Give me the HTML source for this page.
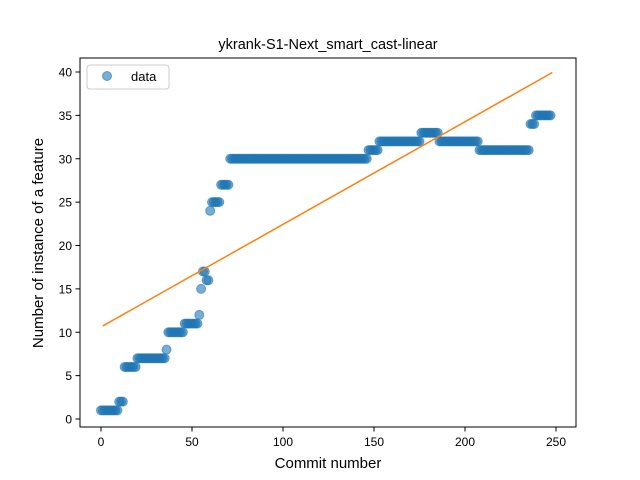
<!DOCTYPE html>
<html><head><meta charset="utf-8"><style>
body{margin:0;background:#fff;}
svg{display:block;font-family:"Liberation Sans","DejaVu Sans",sans-serif;}
</style></head><body>
<svg id="chart" width="640" height="480">
<rect x="0" y="0" width="640" height="480" fill="#fff"/>
<text x="328" y="49" text-anchor="middle" font-size="14.5">ykrank-S1-Next_smart_cast-linear</text>
<g id="plot"></g>
<rect x="80" y="58" width="496" height="369" fill="none" stroke="#000" stroke-width="1"/>
<text x="328" y="468" text-anchor="middle" font-size="15">Commit number</text>
<text transform="translate(43,243) rotate(-90)" text-anchor="middle" font-size="15">Number of instance of a feature</text>
<g>
<rect x="87" y="65" width="82" height="24" rx="3" fill="#fff" stroke="#ccc"/>
<circle cx="107" cy="76" r="4.5" fill="#1f77b4" fill-opacity="0.6" stroke="#1f77b4" stroke-opacity="0.6"/>
<text x="131" y="81" font-size="13">data</text>
</g>
</svg>
<script>
const runValues = [1,2,6,7,8,10,11,12,15,17,16,24,25,27,30,31,32,33,32,31,34,35];
const runLengths = [10,3,7,16,1,9,8,1,1,2,2,1,5,5,76,6,23,10,22,28,3,9];
const xTicks = [0,50,100,150,200,250];
const yTicks = [0,5,10,15,20,25,30,35,40];

const X = v => 101 + v * 1.82;
const Y = v => 419 - v * 8.675;
const NS = "http://www.w3.org/2000/svg";
const svg = document.getElementById('chart');
const plot = document.getElementById('plot');

const values = [];
runValues.forEach((v, i) => { for (let k = 0; k < runLengths[i]; k++) values.push(v); });
const xs = values.map((_, i) => i);

// ticks
xTicks.forEach(t => {
  const l = document.createElementNS(NS, 'line');
  l.setAttribute('x1', X(t)); l.setAttribute('x2', X(t));
  l.setAttribute('y1', 427); l.setAttribute('y2', 431.5);
  l.setAttribute('stroke', '#000');
  
  
  svg.appendChild(l);
  const tx = document.createElementNS(NS, 'text');
  tx.setAttribute('x', X(t)); tx.setAttribute('y', 446);
  tx.setAttribute('text-anchor', 'middle'); tx.setAttribute('font-size', '12');
  tx.textContent = t;
  
  
  svg.appendChild(tx);
});
yTicks.forEach(t => {
  const l = document.createElementNS(NS, 'line');
  l.setAttribute('x1', 75.5); l.setAttribute('x2', 80);
  l.setAttribute('y1', Y(t)); l.setAttribute('y2', Y(t));
  l.setAttribute('stroke', '#000');
  
  
  svg.appendChild(l);
  const tx = document.createElementNS(NS, 'text');
  tx.setAttribute('x', 72); tx.setAttribute('y', Y(t) + 4.5);
  tx.setAttribute('text-anchor', 'end'); tx.setAttribute('font-size', '12');
  tx.textContent = t;
  
  
  svg.appendChild(tx);
});

// points
values.forEach((v, i) => {
  const c = document.createElementNS(NS, 'circle');
  c.setAttribute('cx', X(xs[i])); c.setAttribute('cy', Y(v)); c.setAttribute('r', 4.5);
  c.setAttribute('fill', '#1f77b4'); c.setAttribute('fill-opacity', '0.6');
  c.setAttribute('stroke', '#1f77b4'); c.setAttribute('stroke-opacity', '0.6');
  
  
  plot.appendChild(c);
});

// linear fit
const n = values.length;
const mx = xs.reduce((a, b) => a + b, 0) / n;
const my = values.reduce((a, b) => a + b, 0) / n;
let sxy = 0, sxx = 0;
xs.forEach((x, i) => { sxy += (x - mx) * (values[i] - my); sxx += (x - mx) * (x - mx); });
const slope = sxy / sxx, icpt = my - slope * mx;
const x0 = 1, x1 = n;
const fit = document.createElementNS(NS, 'line');
fit.setAttribute('x1', X(x0)); fit.setAttribute('y1', Y(icpt + slope * x0));
fit.setAttribute('x2', X(x1)); fit.setAttribute('y2', Y(icpt + slope * x1));
fit.setAttribute('stroke', '#ff7f0e'); fit.setAttribute('stroke-width', '1.5');


plot.appendChild(fit);
</script>
</body></html>
